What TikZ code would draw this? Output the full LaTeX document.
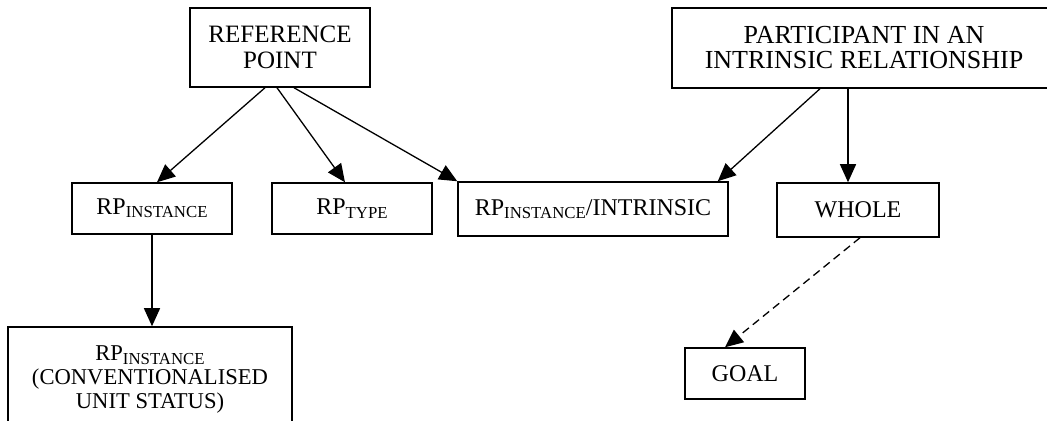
\documentclass[tikz,border=0pt]{standalone}
\usepackage{fontspec}
\setmainfont{Liberation Serif}
\usetikzlibrary{arrows.meta,calc}
\tikzset{
  box/.style={draw, line width=0.75pt, inner sep=0pt, align=center,
    font=\fontsize{12}{13}\selectfont},
  link/.style={line width=0.65pt, -{Triangle[length=9pt,width=8pt]}},
}
\newcommand{\sub}[1]{\raisebox{-0.3ex}{\fontsize{8.4}{9}\selectfont #1}}

\begin{document}
\begin{tikzpicture}[x=0.5pt,y=-0.5pt]
    \useasboundingbox (0,0) rectangle (1047,421);

    % Top row
    \node[box, minimum width=90pt, minimum height=39.5pt,
      font=\fontsize{12.5}{13}\selectfont] (ref) at (280,47.5) {REFERENCE\\POINT};
    \node[box, minimum width=192pt, minimum height=40pt,
      font=\fontsize{13}{12.5}\selectfont] (part) at (864,48) {PARTICIPANT IN AN\\INTRINSIC RELATIONSHIP};

    % Middle row
    \node[box, minimum width=80pt, minimum height=25.5pt] (inst) at (152,208.5) {RP\sub{INSTANCE}};
    \node[box, minimum width=80pt, minimum height=25.5pt] (type) at (352,208.5) {RP\sub{TYPE}};
    \node[box, minimum width=135pt, minimum height=27pt] (rpint) at (593,209) {RP\sub{INSTANCE}/INTRINSIC};
    \node[box, minimum width=81pt, minimum height=27pt] (whole) at (858,210) {WHOLE};

    % Bottom row
    \node[box, minimum width=142pt, minimum height=53pt,
      font=\fontsize{11.3}{12}\selectfont] (conv) at (150,380) {RP\sub{INSTANCE}\\(CONVENTIONALISED\\UNIT STATUS)};
    \node[box, minimum width=60pt, minimum height=25.5pt] (goal) at (745,373.5) {GOAL};

    % Links
    \draw[link] ($(ref.south)+(-15,0)$) -- ($(inst.north)+(5,0)$);
    \draw[link] ($(ref.south)+(-3,0)$) -- ($(type.north)+(-7,0)$);
    \draw[link] ($(ref.south)+(14,0)$) -- (rpint.north west);
    \draw[link] ($(part.south)+(-44,0)$) -- ($(rpint.north east)+(-11,0)$);
    \draw[link] ($(part.south)+(-16,0)$) -- ($(whole.north)+(-10,0)$);
    \draw[link] (inst.south) -- (inst.south |- conv.north);
    \draw[link, dash pattern=on 4pt off 2.5pt] ($(whole.south)+(2,0)$) -- ($(goal.north)+(-20,0)$);
\end{tikzpicture}
\end{document}
